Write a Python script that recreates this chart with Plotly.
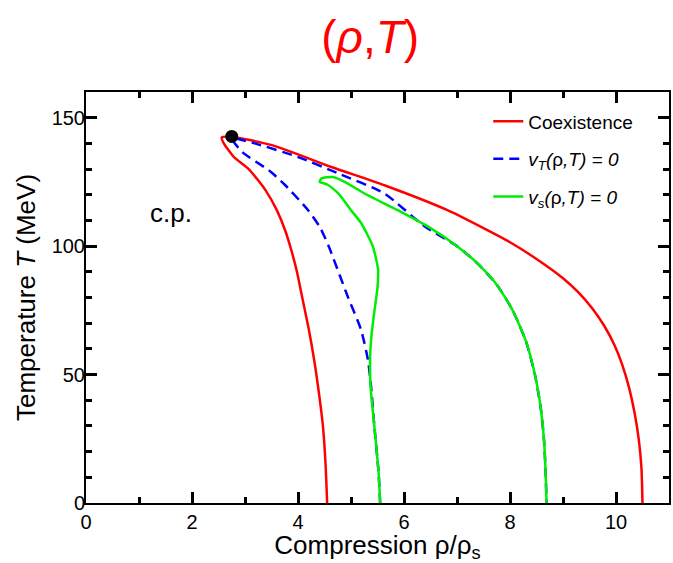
import plotly.graph_objects as go

# Coexistence curve (rho/rho_s, T)
coex_x = [4.55, 4.52, 4.47, 4.40, 4.31, 4.20, 4.08, 3.98, 3.88, 3.76, 3.60, 3.38, 3.07, 2.79, 2.60,
          2.56, 2.76, 3.51, 4.63, 5.63, 6.82, 7.50, 8.00, 8.50, 9.00, 9.30, 9.55, 9.78, 9.97,
          10.12, 10.25, 10.35, 10.43, 10.48, 10.50]
coex_T = [0, 15, 30, 42, 55, 68, 80, 90, 98, 106, 114, 122, 130, 134.7, 140,
          142.3, 142.5, 139.3, 130.8, 123.7, 114, 107, 101.5, 95, 87.5, 81.8, 75.8, 68.9, 61.5,
          53.7, 44.6, 35.1, 24.7, 13.7, 0]

# Isothermal spinodal v_T = 0
vt_x = [5.55, 5.52, 5.44, 5.38, 5.32, 5.19, 4.94, 4.57, 4.41, 4.19, 3.76, 3.45, 2.95, 2.75,
        3.20, 4.00, 4.76, 5.63, 6.38, 7.00, 7.40, 7.75, 8.05, 8.30, 8.47, 8.58, 8.64, 8.67, 8.69]
vt_T = [0, 12, 30, 45, 55.7, 67.4, 80.3, 100.4, 107.5, 114, 123.7, 129.5, 136.6, 142,
        139.9, 134.7, 128.3, 120.5, 107.8, 100, 93, 85, 75, 63, 50, 37, 25, 13, 0]

# Isentropic spinodal v_s = 0
vs_x = [5.55, 5.52, 5.44, 5.37, 5.36, 5.39, 5.45, 5.50, 5.51, 5.41, 5.19, 5.00, 4.76, 4.55,
        4.41, 4.44, 4.66, 4.88, 5.30, 5.88, 6.50, 7.00, 7.40, 7.75, 8.05, 8.30, 8.47, 8.58,
        8.64, 8.67, 8.69]
vs_T = [0, 12, 30, 45, 56, 66, 76, 84, 91, 100, 109, 114, 120.5, 124,
        125, 126.3, 126.9, 125, 120, 114, 107, 100, 93, 85, 75, 63, 50, 37,
        25, 13, 0]

# Critical point
cp_x = [2.75]
cp_T = [142.7]

X_RANGE = [0, 11]
Y_RANGE = [0, 160]

FONT = "Liberation Sans, Arial, Helvetica, sans-serif"

fig = go.Figure()
fig.add_trace(go.Scatter(x=coex_x, y=coex_T, mode="lines", name="Coexistence",
                         line=dict(color="#ff0000", width=2.5, shape="spline", smoothing=0.6),
                         legendgroup="a"))
fig.add_trace(go.Scatter(x=vt_x, y=vt_T, mode="lines",
                         name="<i>v<sub>T</sub>(</i>ρ<i>,T) = 0</i>",
                         line=dict(color="#0000ff", width=2.5, dash="10px,6px",
                                   shape="spline", smoothing=0.6),
                         legendgroup="b"))
fig.add_trace(go.Scatter(x=vs_x, y=vs_T, mode="lines",
                         name="<i>v<sub>s</sub>(</i>ρ<i>,T) = 0</i>",
                         line=dict(color="#00ee00", width=2.5, shape="spline", smoothing=0.6),
                         legendgroup="c"))
fig.add_trace(go.Scatter(x=cp_x, y=cp_T, mode="markers", showlegend=False,
                         marker=dict(color="black", size=13)))
# invisible trace on the overlay axes carrying the minor ticks
fig.add_trace(go.Scatter(x=cp_x, y=cp_T, mode="markers", showlegend=False, hoverinfo="skip",
                         marker=dict(color="rgba(0,0,0,0)", size=1), xaxis="x2", yaxis="y2"))

fig.add_annotation(x=1.61, y=113, text="c.p.", showarrow=False,
                   font=dict(size=26, color="black", family=FONT))

fig.update_layout(
    width=673, height=563,
    margin=dict(l=86, r=2, t=92, b=60),
    paper_bgcolor="white", plot_bgcolor="rgba(0,0,0,0)",
    font=dict(family=FONT, color="black"),
    title=dict(text="(<i>ρ</i>,<i>T</i>)", x=0.55, xanchor="center", y=0.935, yanchor="middle",
               font=dict(size=46, color="#ff0000", family=FONT)),
    legend=dict(x=0.69, y=0.975, xanchor="left", yanchor="top",
                bgcolor="rgba(0,0,0,0)", font=dict(size=19, color="black"),
                traceorder="grouped", tracegroupgap=10),
    showlegend=True,
    xaxis=dict(range=X_RANGE, tick0=0, dtick=2, ticks="inside", ticklen=11, tickwidth=2.5,
               tickcolor="#000000", layer="above traces",
               showline=True, linewidth=2, linecolor="black", mirror="ticks",
               showgrid=False, zeroline=False, tickfont=dict(size=20),
               title=dict(text="Compression ρ/ρ<sub>s</sub>", font=dict(size=26), standoff=9)),
    yaxis=dict(range=Y_RANGE, tick0=0, dtick=50, ticks="inside", ticklen=11, tickwidth=2.5,
               tickcolor="#000000", ticklabelstandoff=-5, layer="above traces",
               showline=True, linewidth=2, linecolor="black", mirror="ticks",
               showgrid=False, zeroline=False, tickfont=dict(size=20),
               title=dict(text="Temperature <i>T</i> (MeV)", font=dict(size=26), standoff=9)),
    xaxis2=dict(overlaying="x", anchor="y", range=X_RANGE, tick0=0, dtick=1, ticks="inside",
                ticklen=6, tickwidth=2.5, tickcolor="#000000", showticklabels=False,
                mirror="ticks", showline=True, linewidth=2, linecolor="black",
                showgrid=False, zeroline=False, layer="above traces"),
    yaxis2=dict(overlaying="y", anchor="x", range=Y_RANGE, tick0=0, dtick=10, ticks="inside",
                ticklen=6, tickwidth=2.5, tickcolor="#000000", showticklabels=False,
                mirror="ticks", showline=True, linewidth=2, linecolor="black",
                showgrid=False, zeroline=False, layer="above traces"),
)

fig.write_html("out.html")
